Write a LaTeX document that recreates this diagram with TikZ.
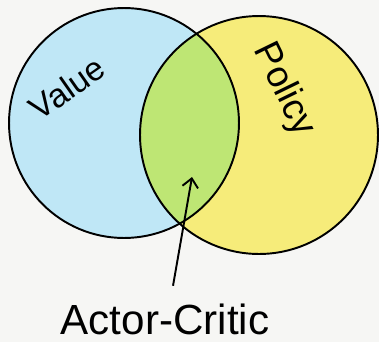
\documentclass[tikz,border=0pt]{standalone}
\usepackage{fontspec}
\setmainfont{Liberation Sans}
\usepackage{xcolor}
\usepackage{tikz}
\usetikzlibrary{arrows.meta, positioning}
\definecolor{valueblue}{HTML}{BFE7F6}
\definecolor{policyyellow}{HTML}{F6EC7A}
\definecolor{bothgreen}{HTML}{BEE674}
\definecolor{paper}{HTML}{F6F6F4}

\begin{document}
\begin{tikzpicture}[x=0.02cm, y=-0.02cm,
  setring/.style={circle, draw=black, line width=1.1pt, inner sep=0pt},
  settext/.style={font=\fontsize{19}{22}\selectfont, inner sep=0pt}]
  \def\rv{2.30cm} % value radius
  \def\rp{2.38cm} % policy radius
  % paper
  \fill[paper] (0,0) rectangle (379,342);
  \useasboundingbox (0,0) rectangle (379,342);
  % fills
  \fill[valueblue] (124,123) circle [radius=\rv];
  \fill[policyyellow] (259,135) circle [radius=\rp];
  \begin{scope}
    \clip (124,123) circle [radius=\rv];
    \fill[bothgreen] (259,135) circle [radius=\rp];
  \end{scope}
  % outlines
  \node[setring, minimum size=4.60cm] (value) at (124,123) {};
  \node[setring, minimum size=4.76cm] (policy) at (259,135) {};
  % labels
  \node[settext, rotate=35] (valuetext) at (67,88) {Value};
  \node[settext, font=\fontsize{21}{24}\selectfont, rotate=-64] (policytext) at (284,90) {Policy};
  \node[settext, font=\fontsize{24}{28}\selectfont, anchor=base] (actorcritic) at (165,334) {Actor-Critic};
  \coordinate (overlap) at (192,177);
  \draw[line width=1.1pt, -{Straight Barb[length=5pt, width=9pt]}, shorten <=10pt]
    ([xshift=0.1cm]actorcritic.north) -- (overlap);
\end{tikzpicture}
\end{document}
